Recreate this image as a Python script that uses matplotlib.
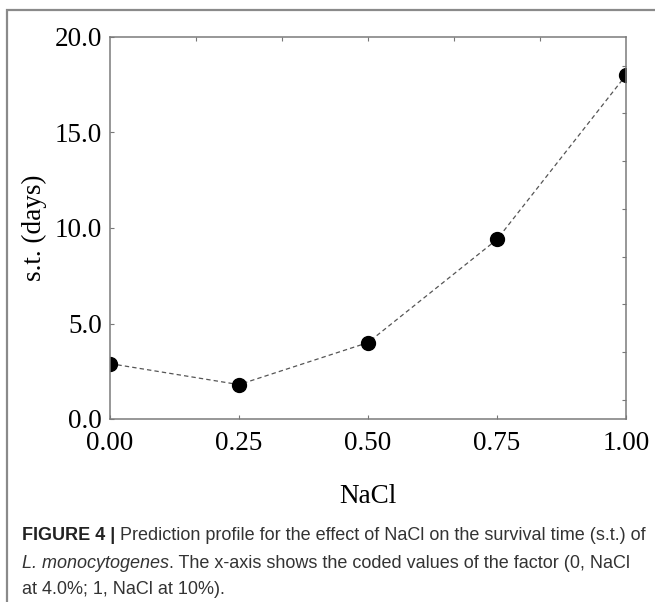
import matplotlib
matplotlib.use("Agg")
import matplotlib.pyplot as plt
from matplotlib.patches import Rectangle
from matplotlib import font_manager

# ---- data ----
nacl = [0.00, 0.25, 0.50, 0.75, 1.00]
survival_days = [2.9, 1.8, 4.0, 9.4, 18.0]
x_ticks = [0.00, 0.25, 0.50, 0.75, 1.00]
x_tick_labels = ["0.00", "0.25", "0.50", "0.75", "1.00"]
y_ticks = [0.0, 5.0, 10.0, 15.0, 20.0]
y_tick_labels = ["0.0", "5.0", "10.0", "15.0", "20.0"]

W, H = 655, 602
fig = plt.figure(figsize=(W / 100, H / 100), dpi=100)

# outer frame
fig.patches.append(Rectangle((7 / W, -0.05), 1.2, 1 - 10 / H + 0.05,
                             transform=fig.transFigure, fill=False,
                             edgecolor="#8a8a8a", linewidth=1.6))

ax = fig.add_axes([110 / W, 1 - 419 / H, (626 - 110) / W, (419 - 37) / H])
ax.plot(nacl, survival_days, linestyle=(0, (3.5, 2.5)), color="#555555",
        linewidth=0.9, marker="o", markersize=10, markerfacecolor="black",
        markeredgecolor="black")
ax.set_xlim(0, 1)
ax.set_ylim(0, 20)

serif = "Liberation Serif"
fsz = 19.5
ax.set_xticks(x_ticks)
ax.set_xticklabels(x_tick_labels, fontfamily=serif, fontsize=fsz)
ax.set_yticks(y_ticks)
ax.set_yticklabels(y_tick_labels, fontfamily=serif, fontsize=fsz)
ax.tick_params(direction="in", length=3, width=0.8, color="#777777", pad=6)
ax.tick_params(axis="x", pad=9)
for s in ax.spines.values():
    s.set_color("#7a7a7a")
    s.set_linewidth(1.1)

top = ax.secondary_xaxis("top")
top.set_xticks([k / 6 for k in range(1, 6)])
top.set_xticklabels([])
top.tick_params(direction="in", length=3, width=0.8, color="#777777")
top.spines["top"].set_visible(False)

right = ax.secondary_yaxis("right")
right.set_yticks([1.0, 3.5, 6.0, 8.5, 11.0, 13.5, 16.0, 18.5])
right.set_yticklabels([])
right.tick_params(direction="in", length=3, width=0.8, color="#777777")
right.spines["right"].set_visible(False)

ax.set_ylabel("s.t. (days)", fontfamily=serif, fontsize=fsz, labelpad=5)
ax.set_xlabel("NaCl", fontfamily=serif, fontsize=fsz, labelpad=20)

# caption with mixed styles
names = {f.name for f in font_manager.fontManager.ttflist}
sans = "Liberation Sans Narrow" if "Liberation Sans Narrow" in names else "Liberation Sans"
lines = [
    [("FIGURE 4 |", "bold", "normal"),
     (" Prediction profile for the effect of NaCl on the survival time (s.t.) of", "normal", "normal")],
    [("L. monocytogenes", "normal", "italic"),
     (". The x-axis shows the coded values of the factor (0, NaCl", "normal", "normal")],
    [("at 4.0%; 1, NaCl at 10%).", "normal", "normal")],
]
ys = [536, 563, 590]
renderer = fig.canvas.get_renderer()


def draw_line(line, yp, fs, draw=True):
    x = 22
    made = []
    for txt, wt, st in line:
        t = fig.text(x / W, 1 - yp / H, txt, fontfamily=sans, fontsize=fs,
                     fontweight=wt, fontstyle=st,
                     color="#222222" if wt == "bold" else "#333333",
                     va="center", ha="left")
        bb = t.get_window_extent(renderer=renderer)
        x = bb.x1
        made.append(t)
    if not draw:
        for t in made:
            t.remove()
    return x


base = 14.0
end = draw_line(lines[0], ys[0], base, draw=False)
fs = base * (648 - 22) / (end - 22)
for line, yp in zip(lines, ys):
    draw_line(line, yp, fs)

fig.savefig("out.png", dpi=100)
